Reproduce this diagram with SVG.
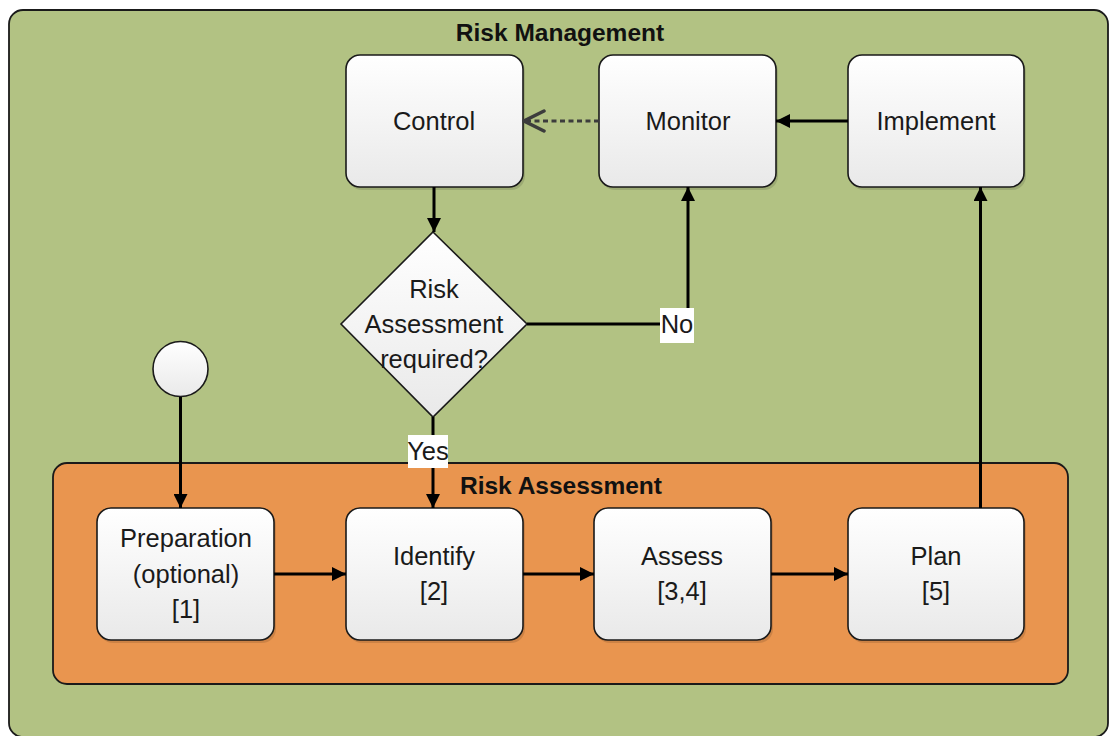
<svg xmlns="http://www.w3.org/2000/svg" width="1109" height="736" viewBox="0 0 1109 736">
<style>
.box{fill:url(#g);stroke:#1a1a1a;stroke-width:1.6}
.sh{fill:#000;opacity:0.12}
.t{font-family:"Liberation Sans",Arial,sans-serif;font-size:25.5px;fill:#1a1a1a;text-anchor:middle}
.title{font-family:"Liberation Sans",Arial,sans-serif;font-size:24.5px;font-weight:bold;fill:#111;text-anchor:middle}
.c{stroke:#000;stroke-width:3;fill:none}
.d{stroke:#3c3c3c;stroke-width:3;fill:none;stroke-dasharray:5 3.5}
.lbl{fill:#fff}
</style>
<defs>
<linearGradient id="g" x1="0" y1="0" x2="0" y2="1">
<stop offset="0" stop-color="#ffffff"/>
<stop offset="1" stop-color="#e9e9e9"/>
</linearGradient>
<marker id="a" viewBox="0 0 14 14" refX="14" refY="7" markerWidth="14" markerHeight="14" markerUnits="userSpaceOnUse" orient="auto">
<path d="M0,0 L14,7 L0,14 z" fill="#000"/>
</marker>
<marker id="o" viewBox="0 0 24 24" refX="22" refY="12" markerWidth="24" markerHeight="24" markerUnits="userSpaceOnUse" orient="auto">
<path d="M2,2 L22,12 L2,22" fill="none" stroke="#3c3c3c" stroke-width="3.5" stroke-linecap="round"/>
</marker>
</defs>

<g id="risk-management">
<rect x="9" y="10" width="1099" height="727" rx="14" fill="#b2c283" stroke="#1a1a1a" stroke-width="1.8"/>
<text class="title" x="560" y="41" font-size="25.5">Risk Management</text>
</g>

<g id="risk-assessment">
<rect x="53" y="463" width="1015" height="221" rx="14" fill="#e9954f" stroke="#1a1a1a" stroke-width="1.8"/>
<text class="title" x="561" y="494">Risk Assessment</text>
</g>

<g id="control">
<rect class="sh" x="348" y="58" width="177" height="132" rx="14"/>
<rect class="box" x="346" y="55" width="177" height="132" rx="14"/>
<text class="t" x="434" y="130">Control</text>
</g>
<g id="monitor">
<rect class="sh" x="601" y="58" width="177" height="132" rx="14"/>
<rect class="box" x="599" y="55" width="177" height="132" rx="14"/>
<text class="t" x="688" y="130">Monitor</text>
</g>
<g id="implement">
<rect class="sh" x="850" y="58" width="176" height="132" rx="14"/>
<rect class="box" x="848" y="55" width="176" height="132" rx="14"/>
<text class="t" x="936" y="130">Implement</text>
</g>

<g id="decision">
<polygon points="433,232 527,324 433,417 341,324" fill="url(#g)" stroke="#1a1a1a" stroke-width="1.6"/>
<text class="t" x="434" y="298">Risk</text>
<text class="t" x="434" y="333">Assessment</text>
<text class="t" x="434" y="368">required?</text>
</g>

<g id="start">
<circle cx="180.5" cy="369" r="27.5" fill="url(#g)" stroke="#1a1a1a" stroke-width="1.6"/>
</g>

<g id="preparation">
<rect class="sh" x="99" y="511" width="177" height="132" rx="14"/>
<rect class="box" x="97" y="508" width="177" height="132" rx="14"/>
<text class="t" x="186" y="547">Preparation</text>
<text class="t" x="186" y="583">(optional)</text>
<text class="t" x="186" y="618">[1]</text>
</g>
<g id="identify">
<rect class="sh" x="348" y="511" width="177" height="132" rx="14"/>
<rect class="box" x="346" y="508" width="177" height="132" rx="14"/>
<text class="t" x="434" y="565">Identify</text>
<text class="t" x="434" y="600">[2]</text>
</g>
<g id="assess">
<rect class="sh" x="596" y="511" width="177" height="132" rx="14"/>
<rect class="box" x="594" y="508" width="177" height="132" rx="14"/>
<text class="t" x="682" y="565">Assess</text>
<text class="t" x="682" y="600">[3,4]</text>
</g>
<g id="plan">
<rect class="sh" x="850" y="511" width="176" height="132" rx="14"/>
<rect class="box" x="848" y="508" width="176" height="132" rx="14"/>
<text class="t" x="936" y="565">Plan</text>
<text class="t" x="936" y="600">[5]</text>
</g>

<g id="connectors">
<line class="c" x1="180.5" y1="397" x2="180.5" y2="508" marker-end="url(#a)"/>
<line class="c" x1="274" y1="574" x2="346" y2="574" marker-end="url(#a)"/>
<line class="c" x1="523" y1="574" x2="594" y2="574" marker-end="url(#a)"/>
<line class="c" x1="771" y1="574" x2="848" y2="574" marker-end="url(#a)"/>
<line class="c" x1="980.5" y1="508" x2="980.5" y2="187" marker-end="url(#a)"/>
<line class="c" x1="848" y1="121" x2="776" y2="121" marker-end="url(#a)"/>
<line class="d" x1="599" y1="121" x2="524" y2="121" marker-end="url(#o)"/>
<line class="c" x1="434" y1="187" x2="434" y2="232" marker-end="url(#a)"/>
<polyline class="c" points="527,324 688,324 688,187" marker-end="url(#a)"/>
<line class="c" x1="433" y1="417" x2="433" y2="508" marker-end="url(#a)"/>
<rect class="lbl" x="660" y="308" width="34" height="35"/>
<text class="t" x="677" y="333">No</text>
<rect class="lbl" x="408" y="435" width="40" height="33"/>
<text class="t" x="428" y="460">Yes</text>
</g>
</svg>
